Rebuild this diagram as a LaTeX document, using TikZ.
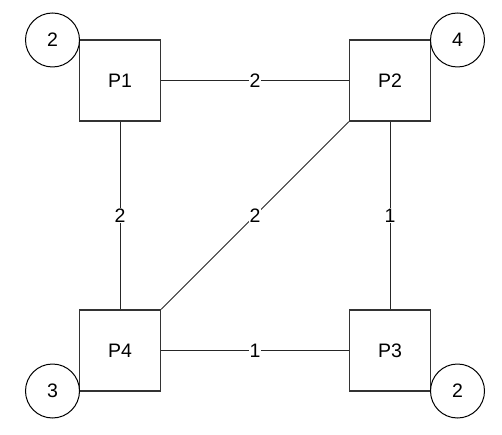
\documentclass[tikz,border=0pt]{standalone}
\usepackage{fontspec}
\setmainfont{Liberation Sans}
\begin{document}
\begin{tikzpicture}[x=1pt, y=-1pt,
    proc/.style={draw=black!80, line width=1.4pt, minimum size=81pt, inner sep=0pt, font=\fontsize{19.5}{22}\selectfont},
    res/.style={circle, draw=black, line width=1pt, minimum size=54pt, inner sep=0pt, font=\fontsize{19.5}{22}\selectfont},
    link/.style={draw=black!85, line width=1pt},
    wt/.style={fill=white, inner sep=0.5pt, font=\fontsize{19.5}{22}\selectfont}]
    \useasboundingbox (0, 0) rectangle (502, 435);

    % processes
    \node[proc] (p1) at (120, 80.5) {P1};
    \node[proc] (p2) at (390, 80.5) {P2};
    \node[proc] (p4) at (120, 350.5) {P4};
    \node[proc] (p3) at (390, 350.5) {P3};

    % resource counts at the corners
    \node[res] (r1) at (52.5, 40) {2};
    \node[res] (r2) at (457.5, 40) {4};
    \node[res] (r4) at (52.5, 391) {3};
    \node[res] (r3) at (457.5, 391) {2};

    % weighted links
    \draw[link] (p1) -- node[wt] {2} (p2);
    \draw[link] (p1) -- node[wt] {2} (p4);
    \draw[link] (p2.south west) -- node[wt] {2} (p4.north east);
    \draw[link] (p2) -- node[wt] {1} (p3);
    \draw[link] (p4) -- node[wt] {1} (p3);
\end{tikzpicture}
\end{document}
